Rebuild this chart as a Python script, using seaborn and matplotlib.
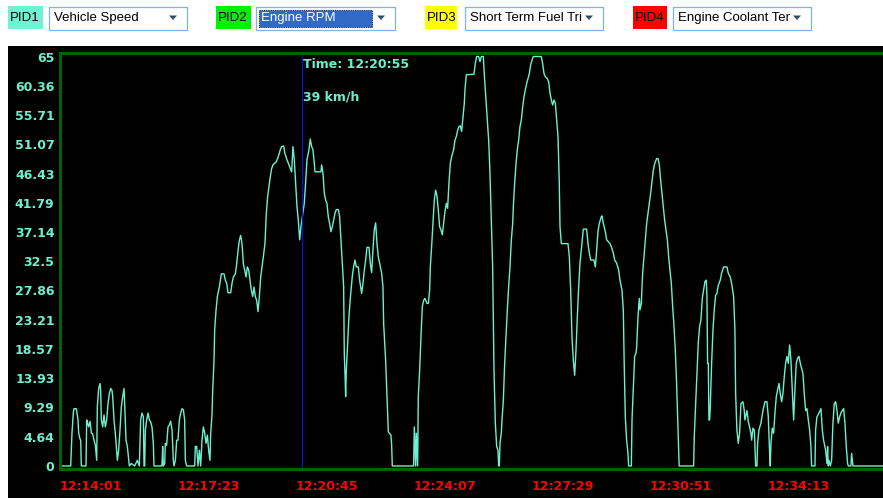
import matplotlib
matplotlib.use("Agg")
import matplotlib.pyplot as plt
import seaborn as sns
import pandas as pd
from matplotlib.patches import Rectangle, Polygon
from matplotlib.transforms import Bbox

sns.set_style("white")
plt.rcParams["font.family"] = ["DejaVu Sans"]

# ---- logged data: seconds elapsed since 12:14:01 and vehicle speed (km/h) ----
elapsed_s = [
    0, 18.3, 20.5, 22.8, 24.0, 28.0, 29.7, 30.8, 32.0, 34.2, 35.4, 36.5,
    44.5, 45.7, 46.8, 49.1, 51.4, 53.7, 55.9, 58.2, 60.5, 62.8,
    63.9, 66.2, 68.5, 69.6, 70.8, 73.1, 75.3, 77.6, 79.9, 82.2,
    84.5, 86.8, 89.0, 90.2, 92.5, 94.7, 97.0, 98.2, 100.4, 102.7,
    105.0, 107.3, 109.6, 110.7, 113.0, 115.3, 117.6, 118.7,
    122.1, 127.8, 132.4, 135.8, 138.1, 140.4, 142.7, 143.8, 145.0, 146.1,
    148.4, 150.7, 153.0, 155.2, 157.5, 159.8, 160.9,
    174.6, 175.8, 176.9, 179.2, 180.3, 182.6, 184.9, 187.2, 189.5, 191.8,
    194.0, 195.2, 197.5, 199.8, 202.0, 204.3, 206.6, 208.9, 211.2, 213.4,
    214.6, 216.9,
    230.6, 231.7, 234.0, 236.3, 238.6, 240.8, 243.1, 245.4, 247.7, 250.0,
    252.3, 254.5, 256.8, 258.0, 260.2, 261.4, 263.7, 264.8, 267.1, 269.4,
    272.8, 276.2, 280.8, 283.1, 285.4, 287.6, 292.2, 294.5, 296.8, 300.2,
    302.5, 304.8, 307.0, 309.3, 311.6, 313.9, 316.2, 318.5, 320.7, 323.0,
    325.3, 327.6, 329.9, 332.2, 334.4, 336.7, 339.0, 341.3, 343.6, 345.9,
    348.1,
    350.9, 353.2, 355.5, 357.7, 360.0, 362.3, 364.6, 366.9, 370.3, 373.7,
    377.2, 379.4, 382.9, 385.1, 388.6, 392.0, 394.3, 396.6, 398.8, 401.1,
    403.4, 405.7, 408.0, 410.3, 412.5, 414.0, 418.2, 420.5, 422.8, 426.2,
    428.5, 430.8, 433.1, 435.4, 436.5, 446.8, 447.9, 450.2, 452.5, 454.8,
    457.0, 459.3, 461.6, 463.9, 466.2, 468.5, 470.7, 473.0, 476.5, 478.7,
    481.0, 483.3, 485.6, 486.7, 487.9, 489.0, 490.2, 492.4, 494.7, 497.0,
    500.4, 502.7, 505.0, 507.3, 510.7, 513.0, 516.4, 518.7, 521.0, 523.3,
    525.5, 529.0, 531.2, 533.5, 535.8, 538.1, 540.4, 542.7, 544.9, 547.2,
    550.6, 552.9, 554.1, 557.5, 559.8, 562.1, 566.6, 567.8, 568.9, 605.4,
    606.6, 608.9, 610.0, 612.3, 613.4, 615.7, 618.0, 620.3, 622.6, 624.8,
    628.3, 630.6, 632.8, 634.0, 636.2, 638.5, 640.8, 643.1, 645.4, 647.7,
    649.9, 652.2, 654.5, 656.8, 659.1, 661.4, 663.6, 665.9, 668.2, 670.5,
    673.9, 676.2, 678.5, 680.8, 683.0, 685.3, 687.6, 689.9, 692.2, 693.3,
    695.6,
    708.7, 711.0, 713.3, 716.7, 719.0, 721.3, 724.7, 727.0, 729.3, 731.6,
    733.9, 736.1, 738.4, 740.7, 741.8, 743.0, 745.3, 747.6, 749.8, 751.0,
    752.1, 753.3, 755.5, 756.7, 759.0, 761.3, 763.5, 765.8, 768.1, 770.4,
    772.7, 775.0, 776.1, 778.4, 780.7, 782.9, 785.2, 787.5, 789.8, 792.1,
    794.4, 796.6, 798.9, 801.2, 803.5, 805.8, 808.1, 810.3, 824.0, 826.3,
    828.6, 830.9, 834.3, 836.6, 838.9, 841.2, 843.4, 845.7, 848.0, 850.3,
    852.6, 854.8, 856.0, 858.3, 869.7, 872.0, 874.3, 876.5, 878.8, 881.1,
    883.4, 885.7, 888.0, 890.2, 892.5, 895.9, 901.6, 903.9, 906.2, 908.5,
    914.2, 916.5, 918.8, 921.0, 923.3, 926.8, 927.9, 930.2, 933.6, 935.9,
    941.6, 943.9, 947.3, 949.6, 953.0, 956.4, 958.7, 962.1, 964.4, 965.6,
    967.8, 970.1, 972.4, 973.5, 978.1, 979.3, 981.5, 983.8, 986.1, 987.3,
    989.5, 991.8, 993.0, 995.2, 997.5, 999.8, 1002.1, 1004.4, 1006.7, 1008.9,
    1011.2, 1013.5, 1015.8, 1018.1, 1021.5, 1023.8, 1026.1, 1028.3, 1030.6, 1032.9,
    1035.2, 1037.5, 1039.8, 1042.0, 1044.3, 1046.6, 1048.9, 1051.2, 1053.4, 1055.5,
    1057.5, 1059.0, 1060.0,
    1084.8, 1085.9, 1088.2, 1090.5, 1092.7, 1095.0, 1097.3, 1099.6, 1101.9, 1104.2,
    1106.4, 1107.6, 1108.7, 1109.9, 1111.0, 1112.2, 1113.3, 1115.6, 1117.9, 1120.1,
    1122.4, 1124.7, 1127.0, 1130.4, 1132.7, 1136.1, 1141.8, 1144.1, 1147.5, 1149.8,
    1153.2, 1155.5, 1156.7, 1158.9, 1161.2, 1163.5, 1164.7, 1165.8, 1169.2, 1171.5,
    1172.6, 1173.8, 1176.1, 1178.4, 1180.6, 1182.9, 1184.1, 1186.3, 1188.6, 1189.8,
    1190.9, 1193.2, 1194.3, 1196.6, 1200.0, 1203.5, 1206.9, 1210.3, 1212.6, 1214.9,
    1216.0, 1217.2, 1219.4, 1221.7, 1224.0, 1226.3, 1228.6, 1230.9, 1233.1, 1235.4,
    1237.7, 1240.0, 1242.3, 1244.6, 1246.8, 1249.1, 1251.4, 1253.7, 1256.0, 1258.2,
    1260.5, 1262.8, 1265.1, 1267.4, 1269.7, 1271.9, 1274.2, 1276.5, 1278.8, 1281.1,
    1283.4, 1285.6, 1286.8, 1292.5, 1293.6, 1295.9, 1299.3, 1302.8, 1305.1, 1307.3,
    1310.8, 1313.0, 1314.2, 1315.3, 1316.5, 1318.8, 1321.0, 1323.3, 1325.6, 1327.9,
    1330.2, 1332.4, 1334.7, 1337.0, 1339.3, 1341.6, 1343.9, 1346.1, 1348.4, 1349.6,
    1354.1, 1355.3, 1357.5, 1408.9,
]

speed_kmh = [
    0, 0, 5.2, 8.5, 9.1, 9.1, 8.0, 7.3, 5.2, 4.3, 4.1, 0,
    0, 7.3, 7.0, 6.2, 7.1, 5.2, 5.1, 4.1, 3.3, 0.9,
    9.4, 12.3, 13.1, 12.0, 7.3, 6.2, 8.1, 6.2, 7.3, 9.9,
    11.5, 12.3, 12.0, 11.0, 7.3, 5.2, 2.5, 0.9, 2.5, 5.7,
    9.4, 11.0, 12.3, 9.9, 4.1, 3.1, 0.9, 0,
    0.4, 0, 0.9, 0, 7.3, 8.4, 7.8, 0, 0, 5.7,
    7.3, 8.4, 7.3, 7.0, 6.2, 3.6, 0,
    0, 3.1, 0, 0.4, 3.6, 3.3, 6.2, 6.5, 7.1, 5.7,
    0.9, 0, 0.9, 4.1, 4.1, 7.3, 8.4, 9.1, 8.9, 7.3,
    0.9, 0,
    0, 3.1, 3.1, 0, 2.5, 0, 4.1, 6.2, 5.2, 3.6,
    4.9, 2.5, 0.9, 5.2, 8.1, 12.0, 16.8, 21.6, 24.7, 26.9,
    28.4, 30.5, 30.5, 29.5, 29.0, 27.5, 27.5, 29.0, 30.0, 30.5,
    32.1, 34.2, 35.8, 36.6, 35.3, 32.1, 31.1, 30.0, 31.6, 31.1,
    29.5, 27.9, 26.9, 28.4, 26.9, 26.3, 24.5, 26.9, 30.0, 31.6,
    33.2,
    35.3, 40.1, 42.8, 44.3, 45.9, 47.2, 47.8, 48.0, 48.3, 49.1,
    50.2, 50.7, 50.8, 49.6, 48.6, 47.8, 47.2, 46.7, 50.7, 48.6,
    44.9, 41.2, 39.0, 35.9, 38.0, 39.0, 41.7, 44.9, 48.6, 50.2,
    51.9, 50.7, 50.2, 48.0, 46.7, 46.7, 47.8, 46.5, 43.3, 42.2,
    41.7, 39.6, 38.5, 37.2, 38.0, 39.0, 40.1, 40.7, 40.7, 39.6,
    35.9, 32.2, 28.5, 17.9, 14.7, 11.0, 15.2, 19.5, 23.7, 26.6,
    30.1, 31.6, 32.7, 31.6, 31.6, 29.5, 27.4, 29.0, 31.1, 32.7,
    34.7, 34.7, 32.2, 30.7, 34.3, 37.5, 38.6, 35.3, 33.2, 32.2,
    30.6, 28.5, 22.6, 16.8, 11.0, 5.4, 4.9, 3.3, 0, 0,
    6.2, 0, 5.2, 0, 11.0, 15.2, 20.5, 25.3, 26.3, 26.6,
    25.8, 25.8, 27.9, 31.6, 34.8, 38.5, 42.2, 43.8, 42.8, 40.6,
    38.0, 37.5, 36.7, 38.5, 40.4, 41.7, 40.9, 44.9, 48.0, 49.1,
    50.2, 51.7, 52.3, 53.3, 53.9, 54.0, 53.1, 55.4, 57.6, 59.7,
    62.1,
    62.2, 63.9, 65.0, 65.0, 64.2, 65.0, 65.0, 61.3, 58.1, 54.9,
    51.7, 46.5, 39.0, 31.6, 23.7, 15.2, 6.8, 3.1, 2.5, 0,
    0, 3.6, 5.2, 7.3, 10.4, 16.3, 20.5, 24.8, 28.5, 31.6,
    35.9, 38.5, 41.2, 44.9, 48.0, 50.2, 51.7, 53.9, 54.9, 57.0,
    58.6, 59.7, 60.7, 61.5, 62.3, 63.7, 64.4, 65.0, 65.0, 63.9,
    62.3, 61.8, 61.5, 61.0, 59.2, 58.1, 57.3, 58.1, 57.6, 54.9,
    52.3, 44.9, 38.0, 35.3, 35.3, 33.2, 27.9, 20.5, 16.8, 14.4,
    18.4, 23.7, 28.5, 32.2, 34.3, 37.6, 37.6, 35.3, 33.8, 32.7,
    32.7, 31.6, 34.3, 37.2, 38.5, 39.6, 39.7, 38.5, 37.2, 35.9,
    35.3, 34.8, 33.8, 32.7, 32.2, 31.1, 29.5, 27.9, 24.8, 17.9,
    7.8, 4.1, 2.0, 0, 0, 7.3, 12.1, 17.4, 17.9, 18.9,
    23.7, 26.6, 24.8, 25.8, 30.6, 33.2, 35.9, 38.5, 40.1, 41.7,
    43.3, 45.1, 47.0, 48.0, 48.8, 48.8, 47.8, 45.4, 43.3, 41.2,
    39.0, 37.5, 35.9, 33.2, 31.1, 29.0, 25.3, 22.1, 18.4, 13.5,
    7.5, 2.5, 0,
    0, 4.7, 9.9, 14.7, 19.5, 22.1, 23.2, 26.6, 27.9, 29.3,
    29.5, 26.9, 16.3, 16.3, 7.3, 7.3, 9.4, 16.3, 21.6, 24.8,
    27.1, 27.4, 28.7, 29.5, 30.6, 31.6, 31.6, 30.6, 30.0, 29.0,
    26.9, 21.6, 11.5, 5.7, 3.6, 5.2, 7.8, 9.9, 10.2, 8.8,
    7.3, 7.8, 8.8, 7.0, 6.2, 5.2, 4.1, 6.0, 5.7, 3.1,
    0, 0, 3.6, 5.7, 6.8, 8.8, 10.2, 10.2, 7.8, 2.0,
    0, 3.6, 6.0, 5.2, 8.4, 11.0, 12.1, 13.1, 11.5, 10.2,
    11.5, 14.2, 16.3, 17.4, 16.3, 19.2, 16.8, 12.1, 7.3, 12.1,
    16.3, 17.1, 17.4, 16.3, 15.5, 14.7, 11.5, 8.8, 9.1, 7.3,
    5.7, 3.1, 0, 0, 5.7, 7.8, 8.4, 9.1, 5.7, 4.1,
    2.5, 0.4, 3.1, 0, 0.9, 0, 0.9, 6.8, 9.9, 10.2,
    8.8, 6.8, 7.8, 8.4, 8.8, 9.1, 6.8, 3.1, 0.4, 0,
    0, 2.0, 0, 0,
]

time_tick_s = [0, 202, 404, 606, 808, 1010, 1212]
time_tick_labels = ["12:14:01", "12:17:23", "12:20:45", "12:24:07",
                    "12:27:29", "12:30:51", "12:34:13"]
speed_tick_labels = ["0", "4.64", "9.29", "13.93", "18.57", "23.21", "27.86",
                     "32.5", "37.14", "41.79", "46.43", "51.07", "55.71",
                     "60.36", "65"]

cursor_s = 414
cursor_time = "12:20:55"
cursor_speed = 39
speed_unit = "km/h"

pid_labels = ["PID1", "PID2", "PID3", "PID4"]
pid_params = ["Vehicle Speed", "Engine RPM", "Short Term Fuel Trim",
              "Engine Coolant Temperature"]
pid_colors = ["#6ef2d2", "#00f000", "#ffff00", "#ff0000"]

TRACE = "#6ef0cf"
AXIS_GREEN = "#006400"

df = pd.DataFrame({"elapsed": elapsed_s, "speed": speed_kmh})

W, H = 883, 498
fig = plt.figure(figsize=(W / 100, H / 100), dpi=100)
fig.patch.set_facecolor("white")

# --- window chrome: selector bar and black chart panel (pixel coordinates) ---
ui = fig.add_axes([0, 0, 1, 1], zorder=0)
ui.set_xlim(0, W)
ui.set_ylim(H, 0)
ui.axis("off")
ui.add_patch(Rectangle((8, 46), W - 8, H - 46, facecolor="black", edgecolor="none"))

label_x = [8, 216, 425, 633]
label_w = [35, 35, 32, 34]
combo_x = [49, 256, 465, 673]
combo_w = [138, 139, 138, 138]
for i in range(4):
    ui.add_patch(Rectangle((label_x[i], 6), label_w[i], 23,
                           facecolor=pid_colors[i], edgecolor="none"))
    ui.text(label_x[i] + 1.5, 18, pid_labels[i], fontsize=9.5,
            family="Liberation Sans", color="black", va="center", ha="left")
    ui.add_patch(Rectangle((combo_x[i], 6.5), combo_w[i], 23,
                           facecolor="white", edgecolor="#7fb2e5", lw=0.9))
    txt_color = "black"
    if i == 1:
        ui.add_patch(Rectangle((combo_x[i] + 3, 9.5), 113, 17,
                               facecolor="#3169c6", edgecolor="#1a2a55",
                               lw=0.8, ls=(0, (1, 1))))
        txt_color = "white"
    t = ui.text(combo_x[i] + 5, 18, pid_params[i], fontsize=9.5,
                family="Liberation Sans", color=txt_color, va="center", ha="left")
    arrow_x = combo_x[i] + combo_w[i] - 14
    clip_right = arrow_x - 7
    t.set_clip_box(Bbox.from_extents(combo_x[i], H - 30, clip_right, H - 6))
    t.set_clip_on(True)
    ui.add_patch(Polygon([[arrow_x - 4, 15.5], [arrow_x + 4, 15.5], [arrow_x, 20]],
                         closed=True, facecolor="#2f4f6f", edgecolor="none"))

# --- chart axes ---
ax = fig.add_axes([60 / W, 29 / H, (W - 60) / W, 416 / H], zorder=2)
ax.set_facecolor("black")
sns.lineplot(data=df, x="elapsed", y="speed", ax=ax, color=TRACE,
             linewidth=1.0, estimator=None, sort=False)

ax.set_xlim(0, 1409)
ax.set_ylim(-0.48, 65.56)
ax.set_xlabel("")
ax.set_ylabel("")
ax.grid(False)

for side in ["left", "bottom", "top"]:
    ax.spines[side].set_color(AXIS_GREEN)
    ax.spines[side].set_linewidth(2.2)
    ax.spines[side].set_visible(True)
ax.spines["right"].set_visible(False)

ax.set_yticks([float(s) for s in speed_tick_labels])
ax.set_yticklabels(speed_tick_labels)
ax.tick_params(axis="y", length=3, width=0.8, color="#3e8a6c", pad=1,
               labelsize=9, labelcolor=TRACE)
for lbl in ax.get_yticklabels():
    lbl.set_fontweight("bold")

ax.set_xticks(time_tick_s)
ax.set_xticklabels(time_tick_labels)
ax.tick_params(axis="x", length=3, width=0.8, color="#707070", pad=5,
               labelsize=9, labelcolor="#ff0000")
for lbl in ax.get_xticklabels():
    lbl.set_fontweight("bold")
    lbl.set_horizontalalignment("left")

# cursor readout
ax.axvline(cursor_s, color="#1010d0", linewidth=0.9)
ax.annotate(f"Time: {cursor_time}", xy=(cursor_s, 63.8), xytext=(1, 0),
            textcoords="offset points", color=TRACE, fontsize=9,
            fontweight="bold", va="center", ha="left")
ax.annotate(f"{cursor_speed} {speed_unit}", xy=(cursor_s, 58.6), xytext=(1, 0),
            textcoords="offset points", color=TRACE, fontsize=9,
            fontweight="bold", va="center", ha="left")

fig.savefig("out.png", dpi=100, facecolor=fig.get_facecolor())
